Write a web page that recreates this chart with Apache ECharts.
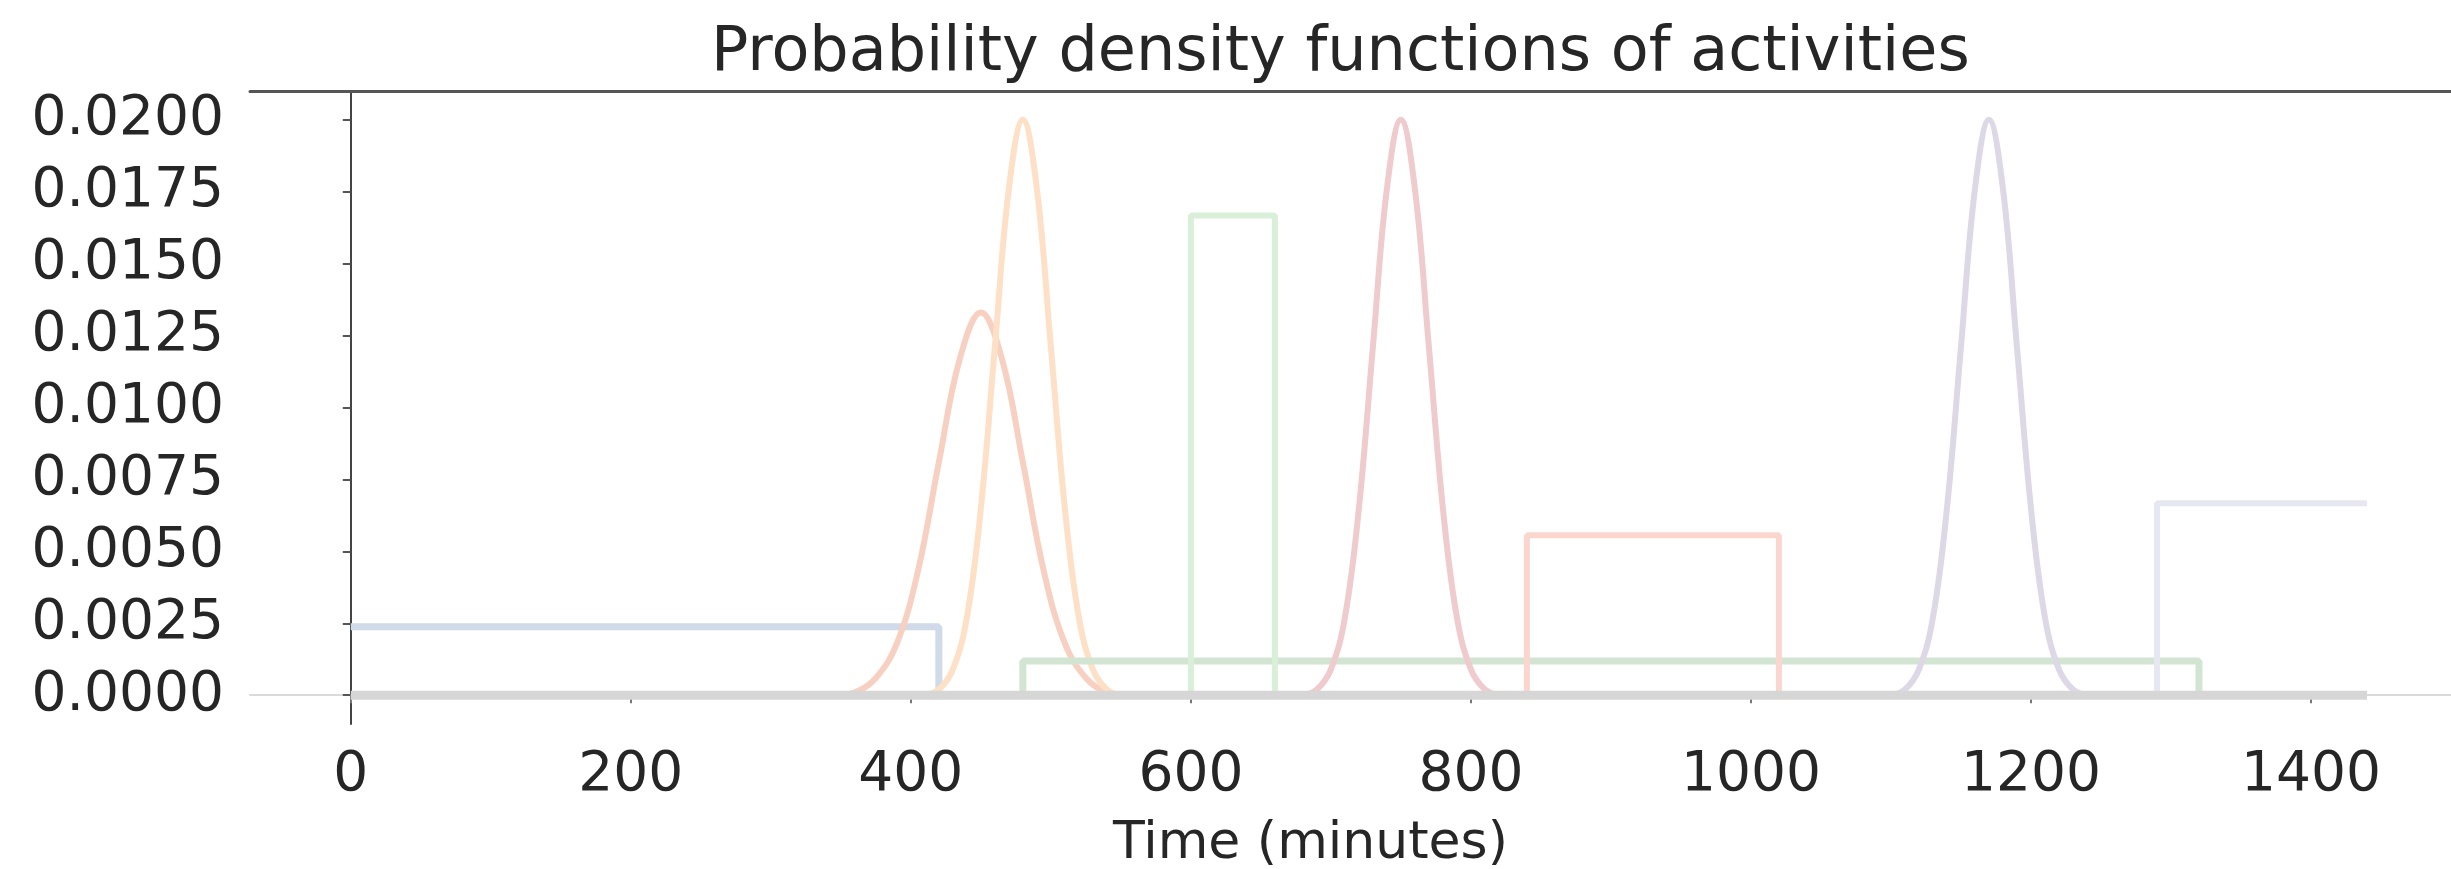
<!DOCTYPE html>
<html>
<head>
<meta charset="utf-8">
<script src="https://cdn.jsdelivr.net/npm/echarts@6/dist/echarts.min.js"></script>
<style>
  html, body { margin: 0; padding: 0; background: #fff; }
  #myChart { width: 2451px; height: 869px; }
</style>
</head>
<body>
<div id="myChart"></div>
<script>
// tick labels
const timeTicks = [0, 200, 400, 600, 800, 1000, 1200, 1400];
const densityTicks = [0, 0.0025, 0.005, 0.0075, 0.01, 0.0125, 0.015, 0.0175, 0.02];

// step shaped activities [minute, density]
const sleepPdf = [[0, 0.00238], [420, 0.00238], [420, 0]];
const workPdf = [[480, 0], [480, 0.00119], [1320, 0.00119], [1320, 0]];
const lunchPdf = [[600, 0], [600, 0.01667], [660, 0.01667], [660, 0]];
const leisurePdf = [[840, 0], [840, 0.00556], [1020, 0.00556], [1020, 0]];
const nightPdf = [[1290, 0], [1290, 0.00667], [1440, 0.00667]];

// bell shaped activities
const wakePdf = [
  [345, 0], [360, 0.0001], [375, 0.0006], [390, 0.0018], [405, 0.0043], [420, 0.0081],
  [435, 0.0117], [450, 0.0133], [465, 0.0117], [480, 0.0081], [495, 0.0043],
  [510, 0.0018], [525, 0.0006], [540, 0.0001], [555, 0]
];
const breakfastPdf = [
  [410, 0], [420, 0.0002], [430, 0.0009], [440, 0.0027], [450, 0.0065], [460, 0.0121],
  [470, 0.0176], [480, 0.0200], [490, 0.0176], [500, 0.0121], [510, 0.0065],
  [520, 0.0027], [530, 0.0009], [540, 0.0002], [550, 0]
];
const afternoonPdf = [
  [680, 0], [690, 0.0002], [700, 0.0009], [710, 0.0027], [720, 0.0065], [730, 0.0121],
  [740, 0.0176], [750, 0.0200], [760, 0.0176], [770, 0.0121], [780, 0.0065],
  [790, 0.0027], [800, 0.0009], [810, 0.0002], [820, 0]
];
const dinnerPdf = [
  [1100, 0], [1110, 0.0002], [1120, 0.0009], [1130, 0.0027], [1140, 0.0065], [1150, 0.0121],
  [1160, 0.0176], [1170, 0.0200], [1180, 0.0176], [1190, 0.0121], [1200, 0.0065],
  [1210, 0.0027], [1220, 0.0009], [1230, 0.0002], [1240, 0]
];
const zeroPdf = [[0, 0], [1440, 0]];

const FONT = "DejaVu Sans";

function lineSeries(name, data, color, smooth, width) {
  return {
    name: name,
    type: "line",
    data: data,
    smooth: smooth ? 0.4 : false,
    showSymbol: false,
    lineStyle: { color: color, width: width || 6 },
  };
}

let myChart = echarts.init(document.getElementById("myChart"));

let option = {
  animation: false,
  backgroundColor: "#ffffff",
  title: {
    text: "Probability density functions of activities",
    left: 706,
    top: 18,
    textStyle: {
      fontFamily: FONT,
      fontSize: 62,
      fontWeight: "normal",
      color: "#262626",
    },
  },
  grid: {
    left: 250,
    right: 0,
    top: 91,
    bottom: 145,
    containLabel: false,
    outerBoundsMode: "none",
  },
  xAxis: [
    {
      type: "value",
      min: -72,
      max: 1500,
      name: "Time (minutes)",
      nameLocation: "middle",
      nameGap: 94,
      nameTextStyle: {
        fontFamily: FONT,
        fontSize: 52,
        color: "#262626",
        padding: [0, 80, 0, 0],
      },
      splitLine: { show: false },
      axisLine: { lineStyle: { color: "#dadada", width: 2 } },
      axisTick: {
        customValues: timeTicks,
        length: 8,
        lineStyle: { color: "#777", width: 2 },
      },
      axisLabel: {
        customValues: timeTicks,
        margin: 24,
        fontFamily: FONT,
        fontSize: 55,
        color: "#262626",
        formatter: function (v) {
          return String(v);
        },
      },
    },
    {
      // top spine
      type: "value",
      position: "top",
      min: -72,
      max: 1500,
      splitLine: { show: false },
      axisLine: { lineStyle: { color: "#555", width: 3 } },
      axisTick: { show: false },
      axisLabel: { show: false },
    },
  ],
  yAxis: {
    type: "value",
    min: -0.001,
    max: 0.021,
    splitLine: { show: false },
    axisLine: { show: true, lineStyle: { color: "#444", width: 2 } },
    axisTick: {
      show: true,
      customValues: densityTicks,
      length: 8,
      lineStyle: { color: "#555", width: 2 },
    },
    axisLabel: {
      customValues: densityTicks,
      margin: 26,
      fontFamily: FONT,
      fontSize: 55,
      color: "#262626",
      formatter: function (v) {
        return v.toFixed(4);
      },
    },
  },
  series: [
    lineSeries("sleep", sleepPdf, "#d0dae8", false, 7),
    lineSeries("wake", wakePdf, "#f8d0c2", true),
    lineSeries("breakfast", breakfastPdf, "#fde0c6", true),
    lineSeries("work", workPdf, "#d2e5d2", false, 7),
    lineSeries("lunch", lunchPdf, "#d9efd7", false),
    lineSeries("afternoon", afternoonPdf, "#efcbcd", true),
    lineSeries("leisure", leisurePdf, "#fbd6cf", false),
    lineSeries("dinner", dinnerPdf, "#ddd8e6", true),
    lineSeries("night", nightPdf, "#e7e7f1", false),
    lineSeries("none", zeroPdf, "#d6d6d6", false, 9),
  ],
};
myChart.setOption(option);
</script>
</body>
</html>
